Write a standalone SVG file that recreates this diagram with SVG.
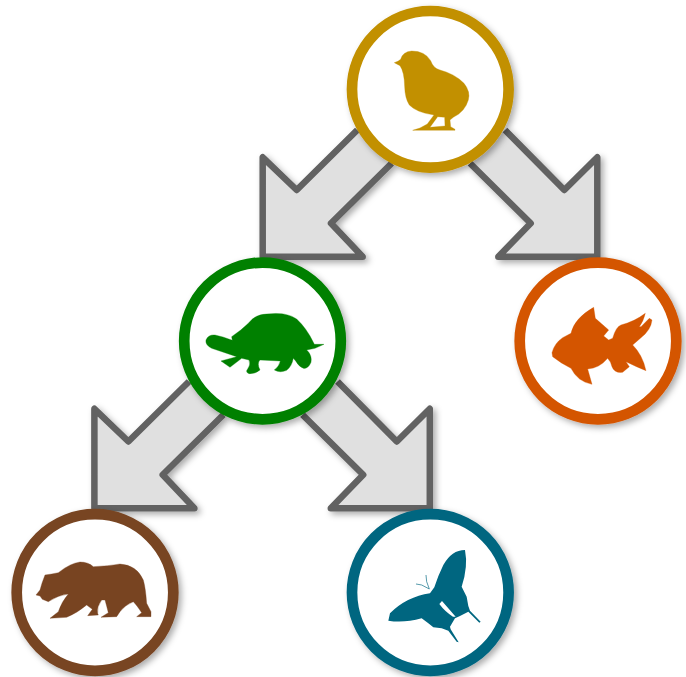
<svg xmlns="http://www.w3.org/2000/svg" width="686" height="677" viewBox="0 0 686 677">
<defs>
<filter id="sh" x="-20%" y="-20%" width="140%" height="140%"><feDropShadow dx="3" dy="3" stdDeviation="3" flood-color="#000" flood-opacity="0.33"/></filter>
</defs>
<style>
.arrow{fill:#e0e0e0;stroke:#626262;stroke-width:6.5;stroke-linejoin:round;filter:url(#sh)}
.ring{fill:#fff;stroke-width:10.7;filter:url(#sh)}
.ic{stroke-width:1;stroke-linejoin:round;fill-rule:evenodd}
</style>
<g id="connectors">
<path class="arrow" d="M357.3,130 L296.7,190 L262.7,157.3 V256.7 H362.7 L331,223.3 L391.7,163.3"/>
<path class="arrow" d="M505,130 L564.3,190 L597.3,157.3 V256.7 H498.3 L530.7,223.3 L470,163.3"/>
<path class="arrow" d="M189,381.5 L128.4,441.5 L94.4,408.8 V508.2 H194.4 L162.7,474.8 L223.4,414.8"/>
<path class="arrow" d="M337.5,381.5 L396.8,441.5 L429.8,408.8 V508.2 H330.8 L363.2,474.8 L302.5,414.8"/>
</g>
<g id="chick">
<circle class="ring" cx="430.3" cy="89.3" r="78.3" stroke="#c29000"/>
<path class="ic" transform="translate(340 0) scale(.3333)" fill="#c29000" stroke="#c29000" d="M163,188 Q175,185 182,178 Q188,155 215,153 Q255,153 272,182 Q280,205 300,210 Q345,222 372,250 Q392,275 385,300 Q375,335 340,352 L330,360 L332,380 L345,388 V391 H218 L240,384 L262,372 L282,345 Q230,338 208,315 Q195,295 194,260 Q193,215 180,197 Z M293,350 L270,382 L315,378 L314,352 Z"/>
</g>
<g id="turtle">
<circle class="ring" cx="262.5" cy="341" r="78.3" stroke="#008000"/>
<path class="ic" transform="translate(175 255) scale(.3333)" fill="#008000" stroke="#008000" d="M170,245 Q200,225 220,205 Q240,178 275,177 Q335,170 365,192 Q395,220 415,262 L418,268 L447,268 L420,280 L395,285 Q412,300 408,322 Q400,342 385,340 Q372,335 362,318 L355,310 Q350,335 335,346 Q315,355 298,345 Q312,335 316,318 L255,315 Q245,325 255,345 Q240,358 222,356 Q210,352 218,342 Q228,330 222,315 L200,310 L165,337 L138,318 L185,305 L110,280 Q90,270 93,255 Q100,238 120,240 Q145,245 172,256 Z"/>
</g>
<g id="fish">
<circle class="ring" cx="598" cy="341" r="78.3" stroke="#d45500"/>
<path class="ic" transform="translate(506 255) scale(.3333)" fill="#d45500" stroke="#d45500" d="M138,293 Q145,265 170,248 L195,235 Q205,190 263,157 L268,190 Q285,205 308,225 L293,243 L308,255 L320,250 Q330,215 345,210 Q385,200 418,175 Q412,200 400,215 L405,215 L430,190 L438,195 Q435,225 405,248 L380,270 Q410,300 420,347 Q390,335 360,320 L370,335 L350,352 Q325,355 318,335 Q315,320 305,310 Q280,340 245,342 L258,388 Q215,380 195,340 Q165,325 140,305 Z"/>
</g>
<g id="bear">
<circle class="ring" cx="95" cy="592.5" r="78.3" stroke="#784421"/>
<path class="ic" transform="translate(5 500) scale(.3333)" fill="#784421" stroke="#784421" d="M93,285 L105,270 Q110,250 120,225 L140,222 L160,218 Q195,190 225,186 Q250,186 265,200 Q310,198 345,192 Q395,195 415,240 Q422,265 425,310 L438,335 V350 L395,350 L410,338 Q395,315 385,305 Q360,315 345,335 L335,350 L288,352 L310,338 Q305,318 300,300 L290,300 Q275,320 278,340 L280,345 L248,347 L262,328 L245,315 Q215,340 185,352 L135,355 L160,335 Q170,305 190,282 Q160,285 130,305 L112,298 L105,288 Z"/>
</g>
<g id="butterfly">
<circle class="ring" cx="430.3" cy="592.5" r="78.3" stroke="#006680"/>
<path class="ic" transform="translate(340 500) scale(.3333)" fill="#006680" d="M375,150 Q335,150 310,195 Q295,225 283,262 L270,280 Q200,290 150,340 L145,362 Q190,370 245,355 L265,370 L280,382 L305,385 L325,392 L350,425 L356,427 L332,388 L330,380 L345,355 L360,348 L385,335 L418,368 L422,365 L390,332 L385,318 L380,290 L365,260 Q385,200 375,150 Z M298,312 L306,303 Q325,325 347,350 L339,350 Q315,335 298,312 Z"/>
<path transform="translate(340 500) scale(.3333)" fill="none" stroke="#006680" stroke-width="2" d="M268,267 L245,255 L228,252 M268,267 L260,245 L258,225"/>
</g>
</svg>
